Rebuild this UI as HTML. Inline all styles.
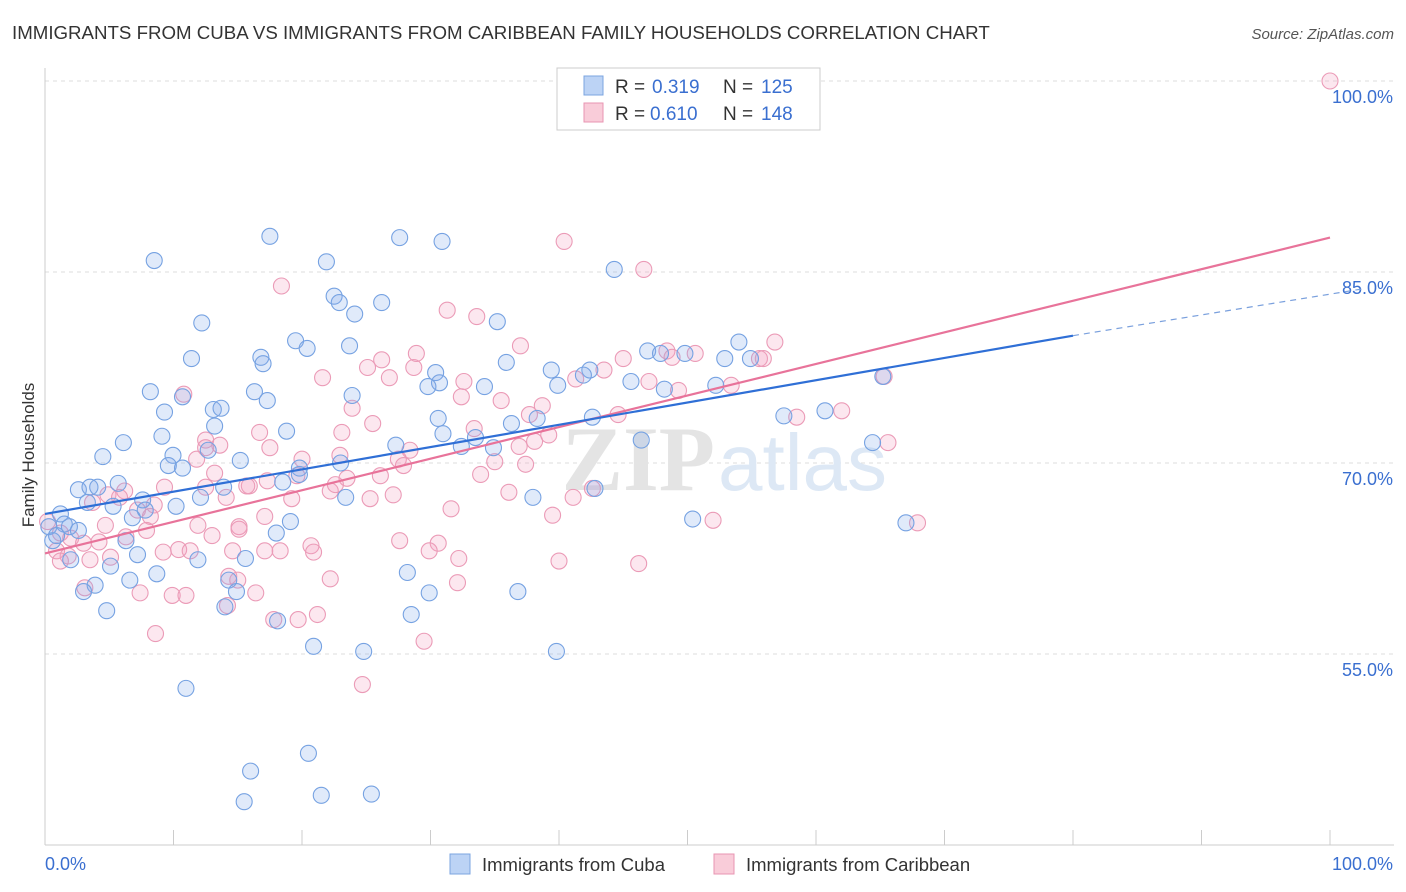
<!DOCTYPE html>
<html><head><meta charset="utf-8"><style>
body{margin:0;background:#fff;font-family:"Liberation Sans",sans-serif}
svg{display:block}
</style></head><body>
<svg id="chart" width="1406" height="892" xmlns="http://www.w3.org/2000/svg">
<text x="12" y="39" font-size="18.7" fill="#333">IMMIGRANTS FROM CUBA VS IMMIGRANTS FROM CARIBBEAN FAMILY HOUSEHOLDS CORRELATION CHART</text>
<text x="1394" y="39" font-size="15" fill="#555" font-style="italic" text-anchor="end">Source: ZipAtlas.com</text>
<g id="grid"></g>
<text x="715" y="490" font-size="92" fill="#e4e4e4" text-anchor="end" font-family="Liberation Serif" font-weight="bold">ZIP</text>
<text x="718" y="490" font-size="80" fill="#dde8f5">atlas</text>
<g id="points"></g>
<g id="lines"></g>
<text transform="translate(34,455) rotate(-90)" font-size="17" fill="#333" text-anchor="middle">Family Households</text>
<g>
<rect x="557" y="68" width="263" height="62" fill="#fff" stroke="#ccc"/>
<rect x="584" y="76" width="19" height="19" fill="#bcd3f5" stroke="#7ba4e0"/>
<rect x="584" y="103" width="19" height="19" fill="#f9ccd9" stroke="#e895b2"/>
<text x="615" y="93" font-size="19" fill="#333">R =</text>
<text x="652" y="93" font-size="19" fill="#3a6fd0">0.319</text>
<text x="723" y="93" font-size="19" fill="#333">N =</text>
<text x="761" y="93" font-size="19" fill="#3a6fd0">125</text>
<text x="615" y="120" font-size="19" fill="#333">R =</text>
<text x="650" y="120" font-size="19" fill="#3a6fd0">0.610</text>
<text x="723" y="120" font-size="19" fill="#333">N =</text>
<text x="761" y="120" font-size="19" fill="#3a6fd0">148</text>
</g>
<g>
<rect x="450" y="854" width="20" height="20" fill="#bcd3f5" stroke="#7ba4e0"/>
<text x="482" y="871" font-size="18.5" fill="#333">Immigrants from Cuba</text>
<rect x="714" y="854" width="20" height="20" fill="#f9ccd9" stroke="#e895b2"/>
<text x="746" y="871" font-size="18.5" fill="#333">Immigrants from Caribbean</text>
</g>
</svg>
<script>
const yTicks=[100,85,70,55];
const yTickLabels=["100.0%","85.0%","70.0%","55.0%"];
const xTickLabels=["0.0%","100.0%"];
const cubaX=[8.5,17.5,27.6,30.9,21.9,44.3,22.5,22.9,26.2,24.1,12.2,35.2,19.5,20.4,23.7,11.4,16.8,16.97,35.9,39.4,42.4,30.4,46.9,47.9,49.8,52.9,54.0,54.9,45.6,39.9,41.9,30.7,29.8,34.2,48.2,52.2,65.2,8.2,10.7,16.3,17.3,23.9,9.3,13.1,13.7,30.6,36.3,38.3,42.6,57.5,60.7,6.1,9.1,12.7,13.2,18.8,27.3,30.97,32.4,33.5,34.9,46.4,64.4,4.5,9.96,15.2,9.6,10.7,19.8,23.0,19.8,2.6,3.5,5.7,4.1,13.9,18.5,12.1,3.3,5.3,7.6,7.8,10.2,23.4,37.97,42.8,6.8,1.2,1.5,1.9,2.6,0.3,19.1,50.4,67.0,0.6,0.9,6.3,7.2,5.1,2.0,11.9,15.6,18.0,8.7,6.6,3.9,3.0,14.3,14.9,28.2,29.9,36.8,4.8,14.0,28.5,18.1,20.9,24.8,39.8,10.97,20.5,16.0,15.5,21.5,25.4];
const cubaY=[85.9,87.8,87.7,87.4,85.8,85.2,83.1,82.6,82.6,81.7,81.0,81.1,79.6,79.0,79.2,78.2,78.3,77.8,77.9,77.3,77.3,77.1,78.8,78.6,78.6,78.2,79.5,78.2,76.4,76.1,76.9,76.3,76.0,76.0,75.8,76.1,76.8,75.6,75.2,75.6,74.9,75.3,74.0,74.2,74.3,73.5,73.1,73.5,73.6,73.7,74.1,71.6,72.1,71.0,72.9,72.5,71.4,72.3,71.3,72.0,71.2,71.8,71.6,70.5,70.6,70.2,69.8,69.6,69.6,70.0,69.1,67.9,68.1,68.4,68.1,68.1,68.5,67.3,66.9,66.6,67.1,66.3,66.6,67.3,67.3,68.0,65.7,66.0,65.2,65.0,64.7,65.0,65.4,65.6,65.3,63.9,64.3,63.9,62.8,61.9,62.4,62.4,62.5,64.5,61.3,60.8,60.4,59.9,60.8,59.9,61.4,59.8,59.9,58.4,58.7,58.1,57.6,55.6,55.2,55.2,52.3,47.2,45.8,43.4,43.9,44.0];
const caribX=[100,40.4,46.6,18.4,31.3,33.6,37.0,56.8,26.2,28.7,28.9,21.6,25.1,26.8,45.0,48.4,48.8,50.6,55.6,55.9,32.6,41.3,43.5,47.0,49.3,53.4,65.3,10.8,32.4,35.5,38.7,23.9,25.5,37.7,44.6,58.5,62.0,12.5,13.6,16.7,23.1,33.4,36.9,38.1,39.2,65.6,11.8,17.5,20.0,28.4,27.5,27.9,35.0,37.4,22.95,33.9,13.2,15.9,17.3,19.6,23.5,26.1,9.3,12.5,15.7,22.2,22.6,36.1,42.6,4.9,6.2,5.8,8.5,14.1,19.2,25.3,27.1,31.6,41.1,3.7,7.2,8.2,17.1,39.5,51.99,67.9,4.7,7.9,11.9,13.0,15.1,0.2,1.2,2.0,3.0,4.2,6.3,0.9,1.8,9.2,10.4,11.3,14.6,17.1,18.3,20.7,20.9,27.6,30.6,29.9,32.2,40.0,46.2,3.5,5.1,1.2,14.3,15.0,22.2,32.1,3.1,7.4,9.9,10.97,14.2,16.4,21.2,17.8,19.7,29.5,8.6,24.7,12.5,15.1];
const caribY=[100,87.4,85.2,83.9,82.0,81.5,79.2,79.5,78.1,77.5,78.6,76.7,77.5,76.7,78.2,78.8,78.3,78.6,78.2,78.2,76.4,76.6,77.3,76.4,75.7,76.1,76.8,75.4,75.2,74.9,74.5,74.3,73.1,73.8,73.8,73.6,74.1,71.8,71.4,72.4,72.4,72.7,71.3,71.7,72.2,71.6,70.3,71.2,70.3,71.0,70.3,69.8,70.1,69.9,70.6,69.1,69.2,68.2,68.6,69.0,68.8,69.0,68.1,68.1,68.2,67.8,68.3,67.7,68.0,67.5,67.8,67.3,66.7,67.3,67.2,67.2,67.5,66.4,67.3,66.9,66.3,65.8,65.8,65.9,65.5,65.3,65.1,64.7,65.1,64.3,65.0,65.4,64.5,64.1,63.7,63.8,64.2,63.1,62.7,63.0,63.2,63.1,63.1,63.1,63.1,63.5,63.0,63.9,63.7,63.1,62.5,62.3,62.1,62.4,62.6,62.3,61.1,60.8,60.9,60.6,60.2,59.8,59.6,59.6,58.8,59.8,58.1,57.7,57.7,56.0,56.6,52.6,71.2,64.8];
const cubaTrend=[[0,66.0],[80,80.0]];
const cubaTrendExt=[[80,80.0],[102.7,83.7]];
const caribTrend=[[0,62.9],[100,87.7]];
const NS="http://www.w3.org/2000/svg";
const X0=45,X1=1330;
const xs=v=>X0+(X1-X0)*v/100;
const ys=v=>81+(100-v)*12.733;
function mk(tag,attrs,parent){const e=document.createElementNS(NS,tag);for(const k in attrs)e.setAttribute(k,attrs[k]);parent.appendChild(e);return e;}
const grid=document.getElementById('grid');
yTicks.forEach((t,i)=>{
 const l=mk('line',{x1:45,x2:1394,y1:ys(t),y2:ys(t),stroke:'#ddd','stroke-dasharray':'4,4'},grid);
 
 
 const tx=mk('text',{x:1393,y:ys(t)+22,'font-size':18,fill:'#3a6fd0','text-anchor':'end'},grid);
 tx.textContent=yTickLabels[i];
 
 
});
const ax=mk('line',{x1:45,x2:45,y1:68,y2:845,stroke:'#ccc'},grid);


const bx=mk('line',{x1:45,x2:1394,y1:845,y2:845,stroke:'#ccc'},grid);


for(let i=0;i<=10;i++){
 const t=mk('line',{x1:xs(i*10),x2:xs(i*10),y1:830,y2:845,stroke:'#ccc'},grid);
 
 
}
[[0,'start',45],[100,'end',1393]].forEach((d,i)=>{
 const tx=mk('text',{x:d[2],y:870,'font-size':18,fill:'#3a6fd0','text-anchor':d[1]},grid);
 tx.textContent=xTickLabels[i];
 
 
});
const pts=document.getElementById('points');
caribX.forEach((x,i)=>{
 const c=mk('circle',{cx:xs(x),cy:ys(caribY[i]),r:8,fill:'rgba(244,160,190,0.25)',stroke:'#eb9bb7','stroke-width':1.1},pts);
 
 
});
cubaX.forEach((x,i)=>{
 const c=mk('circle',{cx:xs(x),cy:ys(cubaY[i]),r:8,fill:'rgba(130,170,235,0.25)',stroke:'#76a2e2','stroke-width':1.1},pts);
 
 
});
const lines=document.getElementById('lines');
function ln(p,stroke,w,dash,name){
 const l=mk('line',{x1:xs(p[0][0]),y1:ys(p[0][1]),x2:xs(p[1][0]),y2:ys(p[1][1]),stroke:stroke,'stroke-width':w},lines);
 if(dash)l.setAttribute('stroke-dasharray',dash);
 
 
}
ln(caribTrend,'#e8739a',2.2,null,'caribbean-trend-line');
ln(cubaTrend,'#2f6fd6',2.2,null,'cuba-trend-line');
ln(cubaTrendExt,'#7aa0dd',1.2,'6,5','cuba-trend-extension');
</script>
</body></html>
